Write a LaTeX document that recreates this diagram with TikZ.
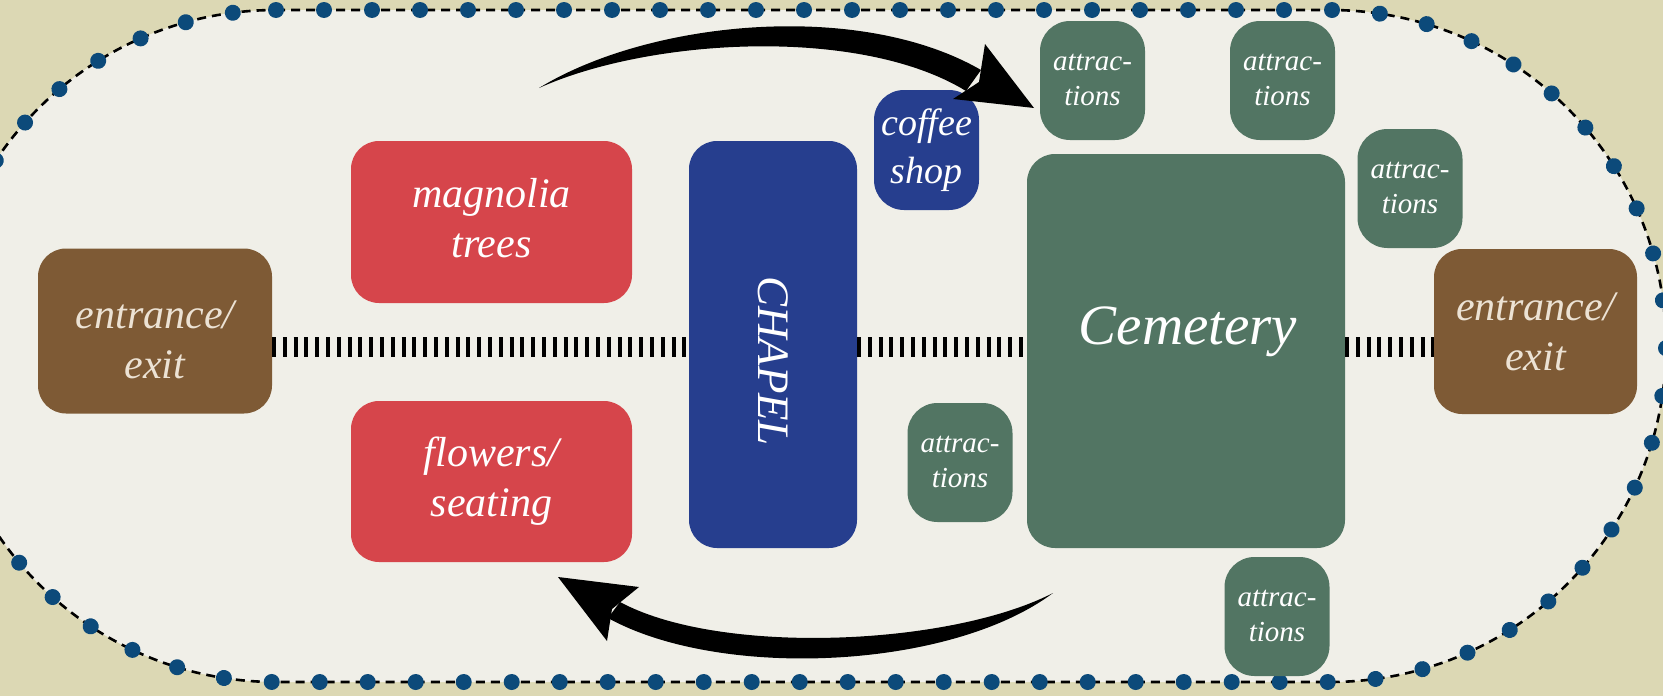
\documentclass[tikz,border=0pt]{standalone}
\usepackage{fontspec}
\setmainfont{Liberation Serif}
\usetikzlibrary{decorations.markings}
\definecolor{bgtan}{RGB}{220,216,180}
\definecolor{paper}{RGB}{240,239,232}
\definecolor{boxred}{RGB}{214,69,75}
\definecolor{boxbrown}{RGB}{126,90,53}
\definecolor{boxblue}{RGB}{38,62,142}
\definecolor{boxgreen}{RGB}{82,117,99}
\definecolor{dotblue}{RGB}{12,74,122}
\definecolor{enttext}{RGB}{236,226,212}
\begin{document}
\begin{tikzpicture}[x=1pt,y=-1pt,
  box/.style={inner sep=0pt, outer sep=0pt, rounded corners=28pt, align=center, text=white},
  redbox/.style={box, fill=boxred, font=\fontsize{42}{50}\selectfont\itshape},
  brownbox/.style={box, fill=boxbrown, text=enttext, font=\fontsize{42}{50}\selectfont\itshape},
  bluebox/.style={box, fill=boxblue, font=\fontsize{38}{48}\selectfont\itshape},
  greenbox/.style={box, fill=boxgreen},
  attbox/.style={box, fill=boxgreen, rounded corners=30pt, minimum width=105pt, minimum height=119pt, font=\fontsize{29}{35}\selectfont\itshape},
  bigtext/.style={inner sep=0pt, text=white, anchor=base},
  hatch/.style={line width=20pt, dash pattern=on 4pt off 6.8pt, black},
  flowarrow/.style={fill=black}
]
\fill[bgtan] (0,0) rectangle (1663,696);
\useasboundingbox (0,0) rectangle (1663,696);

% site outline
\path[fill=paper, draw=black, line width=2.6pt, dash pattern=on 9pt off 6pt,
  postaction={decorate, decoration={markings,
    mark=between positions 0 and 1 step 48pt with {\fill[dotblue] (0,0) circle (8pt);}}}]
  (276,10) -- (1330,10)
  .. controls (1515.6,10) and (1666,160.4) .. (1666,346)
  .. controls (1666,531.6) and (1515.6,682) .. (1330,682)
  -- (276,682)
  .. controls (90.4,682) and (-60,531.6) .. (-60,346)
  .. controls (-60,160.4) and (90.4,10) .. (276,10) -- cycle;

% boxes
\node[brownbox, minimum width=234pt, minimum height=165pt] (entL) at (155,331) {\strut\rule{0pt}{59pt}entrance/\\\strut exit};
\node[brownbox, minimum width=203pt, minimum height=165pt] (entR) at (1535.5,331.5) {\strut\rule{0pt}{42pt}entrance/\\\strut exit};
\node[redbox, minimum width=281pt, minimum height=162pt] (mag) at (491.5,222) {\strut magnolia\\\strut trees};
\node[redbox, minimum width=281pt, minimum height=161pt] (flo) at (491.5,481.5) {\strut flowers/\\\strut seating};
\node[bluebox, minimum width=168pt, minimum height=407pt] (chapel) at (773,344.5) {};
\node[bigtext, rotate=-90, font=\fontsize{45}{54}\selectfont\itshape] (chapelt) at (758,361) {CHAPEL};
\node[bluebox, rounded corners=30pt, minimum width=105pt, minimum height=120pt] (cof) at (926.5,150) {\strut coffee\\\strut shop};
\node[greenbox, minimum width=318pt, minimum height=394pt] (cem) at (1186,351) {};
\node[bigtext, font=\fontsize{57}{68}\selectfont\itshape] (cemt) at (1188,344) {Cemetery};
\node[attbox] (att1) at (1092.5,80.5) {\strut attrac-\\\strut tions};
\node[attbox] (att2) at (1282.5,80.5) {\strut attrac-\\\strut tions};
\node[attbox] (att3) at (1410,188.5) {\strut attrac-\\\strut tions};
\node[attbox] (att4) at (960,462.5) {\strut attrac-\\\strut tions};
\node[attbox] (att5) at (1277,616.5) {\strut attrac-\\\strut tions};

% path (hatched)
\coordinate (hy) at (0,347);
\draw[hatch] (entL.east |- hy) -- (chapel.west |- hy);
\draw[hatch] (chapel.east |- hy) -- (cem.west |- hy);
\draw[hatch] (cem.east |- hy) -- (entR.west |- hy);

% flow arrows
\fill[flowarrow] (539,88) .. controls (650,20) and (860,0) .. (981,70)
  -- (966,91) .. controls (860,26) and (650,38) .. (539,88) -- cycle;
\fill[flowarrow] (985,44) -- (1034,108) -- (953,99) -- (979,82) -- cycle;
\fill[flowarrow] (1053,593) .. controls (950,670) and (720,680) .. (608,618)
  -- (620,602) .. controls (720,656) and (950,646) .. (1053,593) -- cycle;
\fill[flowarrow] (558,577) -- (639,587) -- (612,609) -- (607,641) -- cycle;
\end{tikzpicture}
\end{document}
